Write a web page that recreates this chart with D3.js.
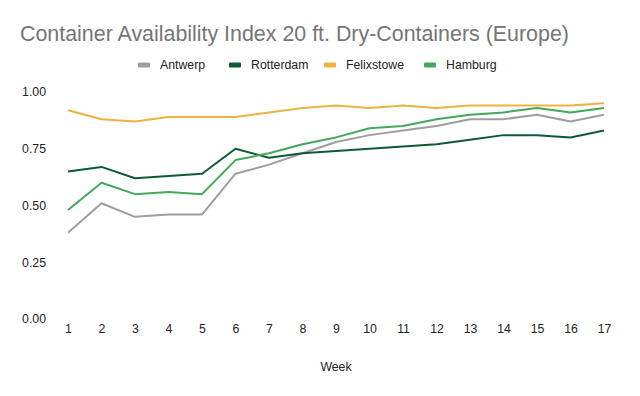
<!DOCTYPE html>
<html>
<head>
<meta charset="utf-8">
<script src="https://cdn.jsdelivr.net/npm/d3@7"></script>
<style>
  body { margin: 0; background: #fff; }
  svg { display: block; font-family: "Liberation Sans", Arial, sans-serif; }
</style>
</head>
<body>
<svg id="chart"></svg>
<script>
const weeks = [1, 2, 3, 4, 5, 6, 7, 8, 9, 10, 11, 12, 13, 14, 15, 16, 17];
const ports = ['Antwerp', 'Rotterdam', 'Felixstowe', 'Hamburg'];
const antwerp    = [0.38, 0.51, 0.45, 0.46, 0.46, 0.64, 0.68, 0.73, 0.78, 0.81, 0.83, 0.85, 0.88, 0.88, 0.90, 0.87, 0.90];
const rotterdam  = [0.65, 0.67, 0.62, 0.63, 0.64, 0.75, 0.71, 0.73, 0.74, 0.75, 0.76, 0.77, 0.79, 0.81, 0.81, 0.80, 0.83];
const felixstowe = [0.92, 0.88, 0.87, 0.89, 0.89, 0.89, 0.91, 0.93, 0.94, 0.93, 0.94, 0.93, 0.94, 0.94, 0.94, 0.94, 0.95];
const hamburg    = [0.48, 0.60, 0.55, 0.56, 0.55, 0.70, 0.73, 0.77, 0.80, 0.84, 0.85, 0.88, 0.90, 0.91, 0.93, 0.91, 0.93];
const yTicks = [0, 0.25, 0.5, 0.75, 1];

const colors = ['#9e9e9e', '#0d5b34', '#f0b143', '#43a85a'];
const series = [antwerp, rotterdam, felixstowe, hamburg];

const width = 640, height = 396;
const svg = d3.select('#chart')
    .attr('width', width)
    .attr('height', height);

// plot area
const x = d3.scalePoint().domain(weeks).range([68, 604]);
const y = d3.scaleLinear().domain([0, 1]).range([319, 92]);

// title
svg.append('text')
    .attr('x', 20)
    .attr('y', 41)
    .text('Container Availability Index 20 ft. Dry-Containers (Europe)')
    .style('font-size', '21.4px')
    .style('fill', '#757575');

// legend
const legendX = [138, 229, 324, 424];
const legend = svg.selectAll('g.legend')
    .data(ports)
    .enter()
    .append('g')
    .attr('class', 'legend')
    .attr('transform', (d, i) => `translate(${legendX[i]}, 65)`);

legend.append('rect')
    .attr('x', 0)
    .attr('y', -2.5)
    .attr('width', 12)
    .attr('height', 5)
    .attr('rx', 1)
    .style('fill', (d, i) => colors[i]);

legend.append('text')
    .attr('x', 22)
    .attr('dy', '0.35em')
    .text(d => d)
    .style('font-size', '12.3px')
    .style('fill', '#222');

// y axis (labels only)
const yAxis = svg.append('g')
    .attr('transform', 'translate(46, 0)')
    .call(d3.axisLeft(y).tickValues(yTicks).tickFormat(d3.format('.2f')).tickSize(0).tickPadding(0));
yAxis.select('.domain').remove();
yAxis.selectAll('text')
    .style('font-size', '12.3px')
    .style('font-family', '"Liberation Sans", Arial, sans-serif')
    .style('fill', '#222');

// x axis (labels only)
const xAxis = svg.append('g')
    .attr('transform', 'translate(0, 324)')
    .call(d3.axisBottom(x).tickSize(0).tickPadding(0));
xAxis.select('.domain').remove();
xAxis.selectAll('text')
    .style('font-size', '12.3px')
    .style('font-family', '"Liberation Sans", Arial, sans-serif')
    .style('fill', '#222');

svg.append('text')
    .attr('x', 336)
    .attr('y', 371)
    .attr('text-anchor', 'middle')
    .text('Week')
    .style('font-size', '12.3px')
    .style('fill', '#222');

// lines
const line = d3.line()
    .x((d, i) => x(weeks[i]))
    .y(d => y(d));

svg.selectAll('path.series')
    .data(series)
    .enter()
    .append('path')
    .attr('class', 'series')
    .attr('d', line)
    .style('fill', 'none')
    .style('stroke', (d, i) => colors[i])
    .style('stroke-width', 2)
    .style('stroke-linejoin', 'round');
</script>
</body>
</html>
